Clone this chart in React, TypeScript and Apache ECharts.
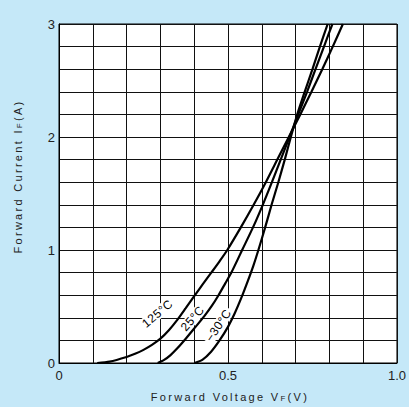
import React, { useEffect, useRef } from 'react';
import * as echarts from 'echarts';

// Forward voltage (V) / forward current (A)
const V125 = [0.113, 0.15, 0.2, 0.225, 0.25, 0.275, 0.3, 0.325, 0.35, 0.375, 0.4, 0.425, 0.45, 0.475, 0.498, 0.538, 0.576, 0.612, 0.646, 0.68, 0.714, 0.747, 0.779, 0.81, 0.84];
const I125 = [0, 0.012, 0.053, 0.081, 0.116, 0.16, 0.215, 0.29, 0.382, 0.486, 0.592, 0.695, 0.797, 0.9, 1.0, 1.2, 1.4, 1.6, 1.8, 2.0, 2.2, 2.4, 2.6, 2.8, 3.0];

const V25 = [0.292, 0.31, 0.33, 0.35, 0.375, 0.4, 0.43, 0.452, 0.472, 0.492, 0.51, 0.542, 0.574, 0.603, 0.63, 0.656, 0.682, 0.708, 0.734, 0.759, 0.784, 0.809];
const I25 = [0, 0.025, 0.07, 0.13, 0.215, 0.305, 0.415, 0.505, 0.6, 0.705, 0.8, 1.0, 1.2, 1.4, 1.6, 1.8, 2.0, 2.2, 2.4, 2.6, 2.8, 3.0];

const Vm30 = [0.401, 0.425, 0.45, 0.475, 0.5, 0.52, 0.54, 0.558, 0.575, 0.59, 0.61, 0.629, 0.649, 0.668, 0.686, 0.705, 0.727, 0.75, 0.772, 0.795];
const Im30 = [0, 0.03, 0.1, 0.2, 0.32, 0.44, 0.58, 0.72, 0.86, 1.0, 1.2, 1.4, 1.6, 1.8, 2.0, 2.2, 2.4, 2.6, 2.8, 3.0];

const xTickLabels = ['0', '0.5', '1.0'];
const yTickLabels = ['0', '1', '2', '3'];
const curveLabels = ['125°C', '25°C', '−30°C'];
const xNameParts = ['Forward Voltage V', 'F', '(V)'];
const yNameParts = ['Forward Current I', 'F', '(A)'];

export default function App() {
  const ref = useRef<HTMLDivElement>(null);
  useEffect(() => {
    document.body.style.margin = '0';
    const chart = echarts.init(ref.current!, null, { renderer: 'svg' });
    const font = "'Liberation Sans', Arial, sans-serif";
    const NAME_SP = 2.3;
    const LABEL_SP = 0.5;
    const canvas = document.createElement('canvas');
    const ctx = canvas.getContext('2d')!;
    const measure = (t: string, size: number) => {
      ctx.font = `${size}px ${font}`;
      return ctx.measureText(t).width;
    };
    const mk = (v: number[], i: number[]) => v.map((x, k) => [x, i[k]]);
    const lineSeries = (name: string, v: number[], i: number[]) => ({
      name,
      type: 'line',
      data: mk(v, i),
      smooth: 0.25,
      showSymbol: false,
      symbol: 'none',
      clip: false,
      lineStyle: { color: '#000', width: 2.2 },
      z: 5,
    });
    const labelText = (text: string, x: number, y: number, deg: number) => ({
      type: 'text',
      x,
      y,
      rotation: (deg * Math.PI) / 180,
      z: 1,
      style: {
        text,
        fill: '#000',
        fontSize: 12,
        fontFamily: font,
        align: 'center',
        verticalAlign: 'middle',
        textAlign: 'center',
        textVerticalAlign: 'middle',
        backgroundColor: '#fff',
        padding: [0, 3],
      },
    });
    const nameGroup = (parts: string[], cx: number, cy: number, rot: number) => {
      const sizes = [11, 8, 11];
      const widths = parts.map((p, k) => measure(p, sizes[k]) + p.length * NAME_SP);
      const total = widths.reduce((a, b) => a + b, 0);
      let x = -total / 2;
      const children = parts.map((p, k) => {
        const el = {
          type: 'text',
          x,
          y: 5,
          z: 10,
          style: {
            text: p,
            fill: '#222',
            fontSize: sizes[k],
            fontFamily: font,
            align: 'left',
            verticalAlign: 'bottom',
            textAlign: 'left',
            textVerticalAlign: 'bottom',
          },
        };
        x += widths[k];
        return el;
      });
      return { type: 'group', x: cx, y: cy, rotation: rot, z: 10, children };
    };
    const spaced: Record<string, number> = {};
    [...xNameParts, ...yNameParts].forEach((p) => (spaced[p] = NAME_SP));
    curveLabels.forEach((p) => (spaced[p] = LABEL_SP));
    const applySpacing = () => {
      const root = ref.current;
      if (!root) return;
      root.querySelectorAll('text').forEach((t) => {
        const c = t.textContent || '';
        if (spaced[c] !== undefined) t.setAttribute('letter-spacing', String(spaced[c]));
      });
    };
    chart.on('finished', applySpacing);
    chart.on('rendered', applySpacing);

    chart.setOption({
      animation: false,
      backgroundColor: '#c5e8f8',
      grid: {
        left: 59,
        top: 24,
        width: 340,
        height: 339,
        show: true,
        backgroundColor: '#fff',
        borderColor: '#000',
        borderWidth: 1,
      },
      xAxis: {
        type: 'value',
        min: 0,
        max: 1,
        interval: 0.1,
        axisLine: { show: true, lineStyle: { color: '#000', width: 1 } },
        axisTick: { show: false },
        splitLine: { show: true, lineStyle: { color: '#111', width: 1 } },
        axisLabel: {
          color: '#222',
          fontSize: 13,
          fontFamily: font,
          margin: 6,
          showMinLabel: true,
          showMaxLabel: true,
          formatter: (v: number) => {
            const k = Math.round(v * 10);
            if (k === 0) return xTickLabels[0];
            if (k === 5) return xTickLabels[1];
            if (k === 10) return xTickLabels[2];
            return '';
          },
        },
      },
      yAxis: {
        type: 'value',
        min: 0,
        max: 3,
        interval: 0.2,
        axisLine: { show: true, lineStyle: { color: '#000', width: 1 } },
        axisTick: { show: false },
        splitLine: { show: true, lineStyle: { color: '#111', width: 1 } },
        axisLabel: {
          color: '#222',
          fontSize: 13,
          fontFamily: font,
          margin: 4,
          showMinLabel: true,
          showMaxLabel: true,
          formatter: (v: number) => {
            const r = Math.round(v);
            if (Math.abs(v - r) < 1e-6) return yTickLabels[r];
            return '';
          },
        },
      },
      series: [
        lineSeries(curveLabels[0], V125, I125),
        lineSeries(curveLabels[1], V25, I25),
        lineSeries(curveLabels[2], Vm30, Im30),
      ],
      graphic: [
        labelText(curveLabels[0], 157.5, 313.5, 40),
        labelText(curveLabels[1], 192.5, 318.5, 49),
        labelText(curveLabels[2], 218.5, 325.5, 56),
        nameGroup(xNameParts, 230, 397, 0),
        nameGroup(yNameParts, 18, 176.5, Math.PI / 2),
      ],
    });
    applySpacing();
    const raf = requestAnimationFrame(() => requestAnimationFrame(applySpacing));
    return () => {
      cancelAnimationFrame(raf);
      chart.dispose();
    };
  }, []);
  return <div ref={ref} style={{ width: 409, height: 407 }} />;
}
